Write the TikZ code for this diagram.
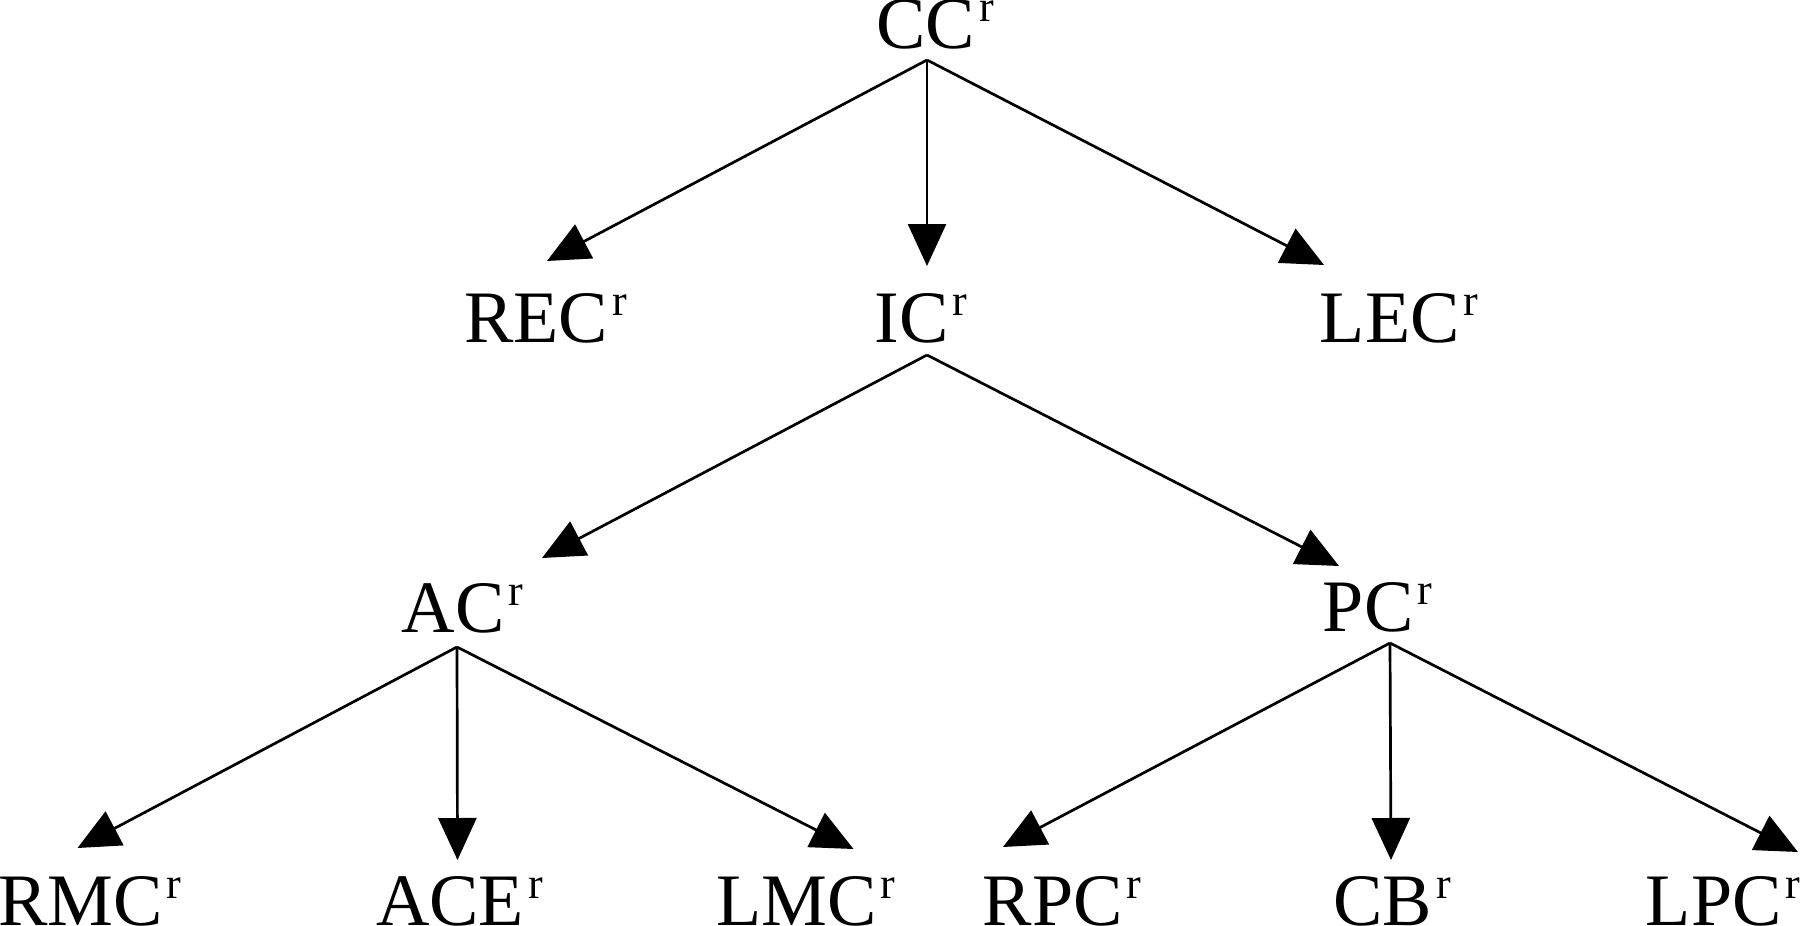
\documentclass[tikz,border=0pt]{standalone}
\usepackage{fontspec}
\setmainfont{Liberation Serif}
\usepackage{tikz}
\usetikzlibrary{arrows.meta}
\newcommand{\rsup}{\kern2pt\raisebox{13.5pt}{\fontsize{22}{22}\selectfont r}}

\begin{document}
\begin{tikzpicture}[x=0.5pt,y=-0.5pt,regstyle/.style={
	anchor=base,inner sep=0pt,font=\fontsize{37}{44}\selectfont
},arrstyle/.style={
	-{Triangle[length=21pt,width=19pt]},line width=1.35pt
}]
	\useasboundingbox (0,0) rectangle (1800,926);

	\node[regstyle] at (935,48) (cc) {CC\rsup};
	\node[regstyle] at (545.5,342) (rec) {REC\rsup};
	\node[regstyle] at (921,342) (ic) {IC\rsup};
	\node[regstyle] at (1399,342) (lec) {LEC\rsup};
	\draw[arrstyle] ([shift={(-8,12)}]cc.base) -- ([shift={(1.5,-81)}]rec.base);
	\draw[arrstyle] ([shift={(-8,12)}]cc.base) -- ([shift={(6,-76)}]ic.base);
	\draw[arrstyle] ([shift={(-8,12)}]cc.base) -- ([shift={(-75,-77)}]lec.base);

	\node[regstyle] at (462.5,632) (ac) {AC\rsup};
	\node[regstyle] at (1377.5,631) (pc) {PC\rsup};
	\draw[arrstyle] ([shift={(6,13)}]ic.base) -- ([shift={(79.5,-74)}]ac.base);
	\draw[arrstyle] ([shift={(6,13)}]ic.base) -- ([shift={(-38.5,-65)}]pc.base);

	\node[regstyle] at (90,925) (rmc) {RMC\rsup};
	\node[regstyle] at (459.5,925) (ace) {ACE\rsup};
	\node[regstyle] at (805.5,925) (lmc) {LMC\rsup};
	\draw[arrstyle] ([shift={(-5.5,15)}]ac.base) -- ([shift={(-12.5,-77)}]rmc.base);
	\draw[arrstyle] ([shift={(-5.5,15)}]ac.base) -- ([shift={(-2,-65)}]ace.base);
	\draw[arrstyle] ([shift={(-5.5,15)}]ac.base) -- ([shift={(48,-76)}]lmc.base);

	\node[regstyle] at (1062,925) (rpc) {RPC\rsup};
	\node[regstyle] at (1392,925) (cb) {CB\rsup};
	\node[regstyle] at (1723,925) (lpc) {LPC\rsup};
	\draw[arrstyle] ([shift={(12.5,12)}]pc.base) -- ([shift={(-59,-78)}]rpc.base);
	\draw[arrstyle] ([shift={(12.5,12)}]pc.base) -- ([shift={(-1,-65)}]cb.base);
	\draw[arrstyle] ([shift={(12.5,12)}]pc.base) -- ([shift={(75,-73)}]lpc.base);
\end{tikzpicture}
\end{document}
